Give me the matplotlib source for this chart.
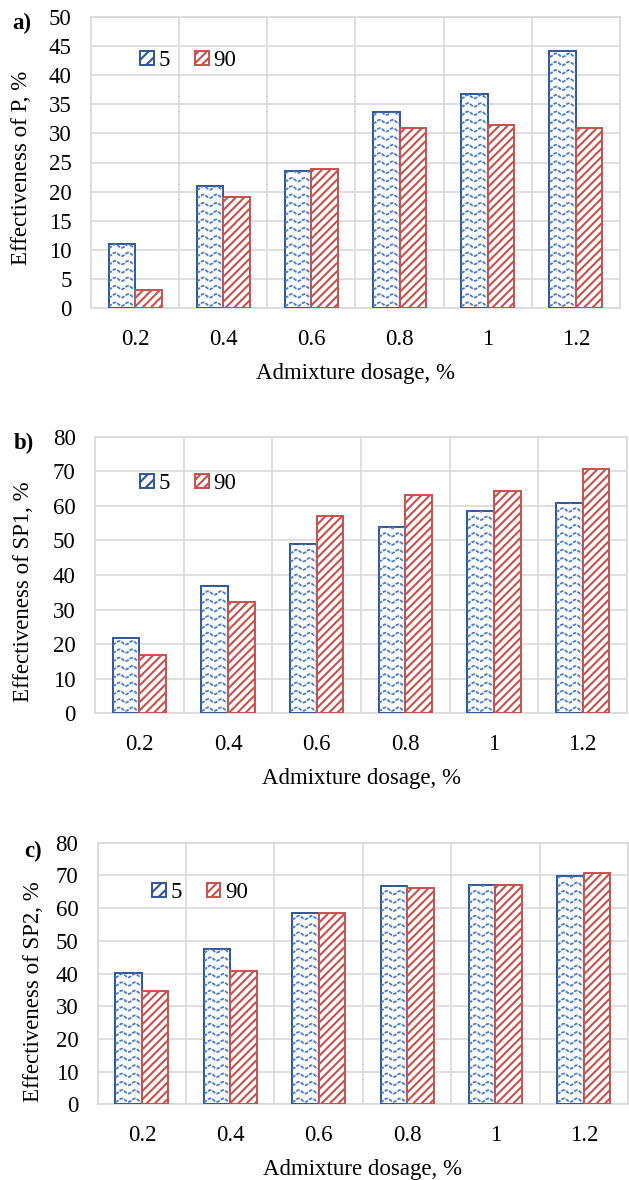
import numpy as np
import matplotlib
matplotlib.use("Agg")
import matplotlib.pyplot as plt
from matplotlib.patches import Patch

plt.rcParams['font.family'] = ['Liberation Serif', 'DejaVu Serif']
plt.rcParams['font.size'] = 16.5
plt.rcParams['hatch.linewidth'] = 1.5

dosage = ['0.2', '0.4', '0.6', '0.8', '1', '1.2']
series_names = ['5', '90']

p_5 = [11.1, 21.0, 23.5, 33.7, 36.8, 44.2]
p_90 = [3.1, 19.0, 23.9, 30.9, 31.5, 30.9]

sp1_5 = [21.9, 36.8, 49.0, 53.9, 58.6, 60.8]
sp1_90 = [16.9, 32.2, 57.1, 63.2, 64.2, 70.6]

sp2_5 = [40.2, 47.5, 58.6, 66.7, 67.0, 69.9]
sp2_90 = [34.7, 40.9, 58.6, 66.1, 67.0, 70.6]

blue_edge = '#2F5597'
blue_wave = '#4A7BCB'
red = '#C9504D'
grid_col = '#D9D9D9'

W, H = 629, 1180
fig = plt.figure(figsize=(W / 100, H / 100), dpi=100)


def px_box(left, right, top, bottom):
    return [left / W, 1 - bottom / H, (right - left) / W, (bottom - top) / H]


panels = [
    dict(box=px_box(91, 620, 16.7, 308.3), ymax=50, step=5, v5=p_5, v90=p_90,
         ylabel='Effectiveness of P, %', tag='a)', tag_xy=(12, 23),
         ylab_xy=(-0.1115, 0.48), leg_xy=(0.093, 0.85)),
    dict(box=px_box(95, 627, 436.7, 713.3), ymax=80, step=10, v5=sp1_5, v90=sp1_90,
         ylabel='Effectiveness of SP1, %', tag='b)', tag_xy=(14, 443),
         ylab_xy=(-0.1147, 0.44), leg_xy=(0.085, 0.83)),
    dict(box=px_box(97.7, 628, 842.7, 1104.3), ymax=80, step=10, v5=sp2_5, v90=sp2_90,
         ylabel='Effectiveness of SP2, %', tag='c)', tag_xy=(24, 851),
         ylab_xy=(-0.101, 0.43), leg_xy=(0.102, 0.81)),
]

x = np.arange(len(dosage))
bw = 0.3

for p in panels:
    ax = fig.add_axes(p['box'])
    ax.set_xlim(-0.5, len(dosage) - 0.5)
    ax.set_ylim(0, p['ymax'])
    ax.set_yticks(np.arange(0, p['ymax'] + 1, p['step']))
    ax.set_xticks(x)
    ax.set_xticklabels(dosage)
    ax.set_xticks(np.arange(-0.5, len(dosage), 1.0), minor=True)
    ax.tick_params(which='both', length=0)
    ax.tick_params(axis='y', pad=14)
    ax.tick_params(axis='x', pad=15)
    ax.grid(axis='y', which='major', color=grid_col, lw=1.2)
    ax.grid(axis='x', which='minor', color=grid_col, lw=1.2)
    ax.set_axisbelow(True)
    for s in ax.spines.values():
        s.set_color(grid_col)
        s.set_linewidth(1.2)

    b5 = ax.bar(x - bw / 2, p['v5'], bw, facecolor='white', edgecolor=blue_edge,
                linewidth=1.4, zorder=3)
    b90 = ax.bar(x + bw / 2, p['v90'], bw, facecolor='white', edgecolor=red,
                 hatch='////', linewidth=1.4, zorder=3)

    # wave fill for the "5" series, clipped to each bar
    bbox = ax.get_position()
    px_x = bbox.width * W / len(dosage)
    px_y = bbox.height * H / p['ymax']
    period = 13.0 / px_x
    amp = 1.7 / px_y
    row = 8.3 / px_y
    for bar in b5:
        x0, w, h = bar.get_x(), bar.get_width(), bar.get_height()
        xs = np.linspace(x0, x0 + w, 60)
        for yr in np.arange(row * 0.5, h + row, row):
            ys = yr + amp * np.cos(2 * np.pi * (xs - x0 - w / 4) / period)
            ln, = ax.plot(xs, ys, color=blue_wave, lw=1.3, ls=(0, (2.0, 0.7)), zorder=3.5)
            ln.set_clip_path(bar)

    handles = [Patch(facecolor='white', edgecolor=blue_edge, hatch='///', lw=1.4),
               Patch(facecolor='white', edgecolor=red, hatch='////', lw=1.4)]
    ax.legend(handles, series_names, loc='center left', bbox_to_anchor=p['leg_xy'],
              ncol=2, frameon=False, handlelength=0.6, handleheight=0.6,
              handletextpad=0.2, columnspacing=1.1, borderaxespad=0, borderpad=0)

    ax.set_xlabel('Admixture dosage, %', labelpad=9)
    ax.set_ylabel(p['ylabel'])
    ax.yaxis.set_label_coords(*p['ylab_xy'])
    fig.text(p['tag_xy'][0] / W, 1 - p['tag_xy'][1] / H, p['tag'], fontweight='bold',
             ha='left', va='center')

fig.savefig('out.png', dpi=100)
